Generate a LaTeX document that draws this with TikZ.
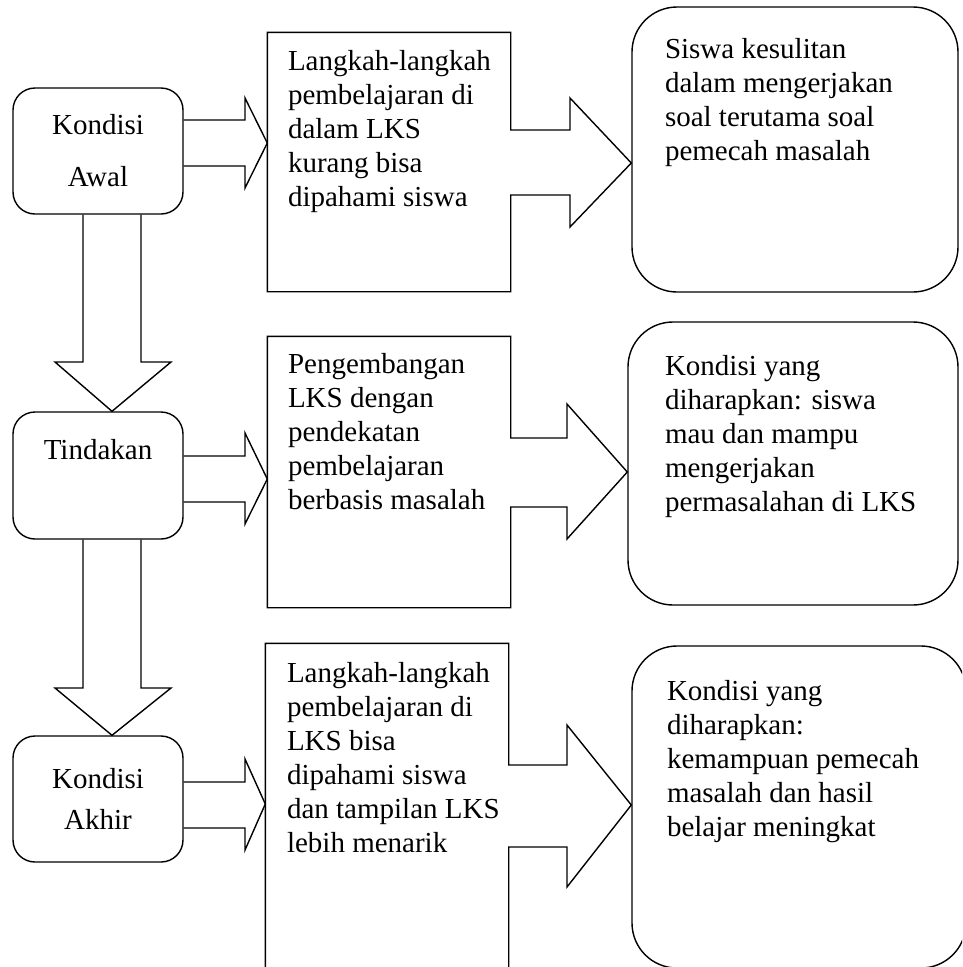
\documentclass[tikz,border=0pt]{standalone}
\usepackage{fontspec}
\setmainfont{Liberation Serif}
\usetikzlibrary{positioning}

\begin{document}
\begin{tikzpicture}[x=1pt,y=-1pt,line width=1.4pt,
 font=\fontsize{29}{34}\selectfont,
 kondisi/.style={draw,rounded corners=22pt,align=center,minimum width=170pt,minimum height=126pt},
 langkahbox/.style={minimum width=242pt,inner sep=0pt},
 harapan/.style={draw,rounded corners=45pt,inner sep=0pt},
 teks/.style={align=left,inner sep=0pt},
 panah/.style={line join=miter}]
\useasboundingbox (0,0) rectangle (962,967);
\clip (0,0) rectangle (962,967);
% kolom kiri
\node[kondisi] (awal) at (98,151) {Kondisi\\[18pt]Awal};
\node[kondisi,minimum height=127pt] (tindakan) at (98,475.5) {Tindakan\\[18pt]\mbox{}};
\node[kondisi] (akhir) at (98,799) {Kondisi\\[7pt]Akhir};
% kolom tengah
\node[langkahbox,minimum height=258pt] (kurang) at (389,162) {};
\node[langkahbox,minimum height=270pt] (pengembangan) at (389,472) {};
\node[langkahbox,minimum height=340pt] (menarik) at (387,814) {};
\node[teks,below right=17pt and 20pt of kurang.north west] (kurangteks)
 {Langkah-langkah\\pembelajaran di\\dalam LKS\\kurang bisa\\dipahami siswa};
\node[teks,below right=16pt and 20pt of pengembangan.north west] (pengembanganteks)
 {Pengembangan\\LKS dengan\\pendekatan\\pembelajaran\\berbasis masalah};
\node[teks,below right=18pt and 21pt of menarik.north west] (menarikteks)
 {Langkah-langkah\\pembelajaran di\\LKS bisa\\dipahami siswa\\dan tampilan LKS\\lebih menarik};
% kolom kanan
\node[harapan,minimum width=326pt,minimum height=285pt] (kesulitan) at (795,149.5) {};
\node[harapan,minimum width=330pt,minimum height=283pt] (mampu) at (793,463.5) {};
\node[harapan,minimum width=334pt,minimum height=322pt] (meningkat) at (799,807) {};
\node[teks,below right=31pt and 33pt of kesulitan.north west] (kesulitanteks)
 {Siswa kesulitan\\dalam mengerjakan\\soal terutama soal\\pemecah masalah};
\node[teks,below right=33pt and 37pt of mampu.north west] (mamputeks)
 {Kondisi yang\\diharapkan: siswa\\mau dan mampu\\mengerjakan\\permasalahan di LKS};
\node[teks,below right=34pt and 35pt of meningkat.north west] (meningkatteks)
 {Kondisi yang\\diharapkan:\\kemampuan pemecah\\masalah dan hasil\\belajar meningkat};
% panah ke bawah
\draw[panah] (83,0 |- awal.south) -- (83,362) -- (55,362) -- (112,0 |- tindakan.north)
 -- (171,362) -- (141,362) -- (141,0 |- awal.south);
\draw[panah] (83,0 |- tindakan.south) -- (83,688) -- (55,688) -- (112,0 |- akhir.north)
 -- (171,688) -- (141,688) -- (141,0 |- tindakan.south);
% panah kiri ke tengah
\draw[panah] (awal.east |- 0,120) -- (245,120) -- (245,98) -- (kurang.west |- 0,143)
 -- (245,188) -- (245,166) -- (awal.east |- 0,166);
\draw[panah] (tindakan.east |- 0,456) -- (245,456) -- (245,433) -- (pengembangan.west |- 0,479)
 -- (245,524) -- (245,502) -- (tindakan.east |- 0,502);
\draw[panah] (akhir.east |- 0,782) -- (245,782) -- (245,759) -- (menarik.west |- 0,804)
 -- (245,850) -- (245,828) -- (akhir.east |- 0,828);
% kotak tengah dengan panah ke kanan
\draw[panah] (kurang.east |- 0,130) -- (kurang.north east) -- (kurang.north west)
 -- (kurang.south west) -- (kurang.south east) -- (kurang.east |- 0,195)
 -- (570,195) -- (570,227) -- (kesulitan.west |- 0,163) -- (570,98) -- (570,130) -- cycle;
\draw[panah] (pengembangan.east |- 0,438) -- (pengembangan.north east) -- (pengembangan.north west)
 -- (pengembangan.south west) -- (pengembangan.south east) -- (pengembangan.east |- 0,507)
 -- (567,507) -- (567,539) -- (mampu.west |- 0,472) -- (567,404) -- (567,438) -- cycle;
\draw[panah] (menarik.east |- 0,765) -- (menarik.north east) -- (menarik.north west)
 -- (menarik.south west) -- (menarik.south east) -- (menarik.east |- 0,847)
 -- (567,847) -- (567,887) -- (meningkat.west |- 0,805) -- (567,725) -- (567,765) -- cycle;
\end{tikzpicture}
\end{document}
